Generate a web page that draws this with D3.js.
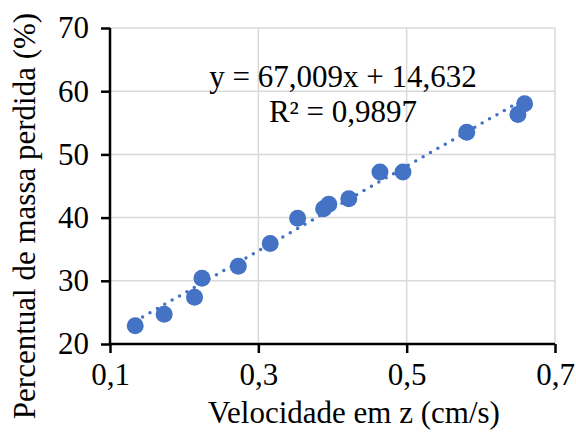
<!DOCTYPE html>
<html>
<head>
<meta charset="utf-8">
<script src="https://cdn.jsdelivr.net/npm/d3@7"></script>
<style>
  body { margin: 0; background: #fff; }
</style>
</head>
<body>
<div id="chart"></div>
<script>
// data
const velocidade = [0.134, 0.173, 0.214, 0.224, 0.273, 0.316, 0.353, 0.388, 0.395, 0.422, 0.464, 0.495, 0.581, 0.650, 0.659]
const massaPerdida = [22.9, 24.7, 27.4, 30.4, 32.3, 35.9, 39.9, 41.4, 42.1, 43.0, 47.2, 47.2, 53.5, 56.3, 58.0]
const xTicks = [0.1, 0.3, 0.5, 0.7]
const yTicks = [20, 30, 40, 50, 60, 70]
const trend = { slope: 67.009, intercept: 14.632 }
const eqLabel = 'y = 67,009x + 14,632'
const r2Label = 'R² = 0,9897'

const width = 576
const height = 432
const margin = {left: 110, top: 28, right: 21, bottom: 88}
const blue = '#4472C4'
const fontSize = '31px'
const font = 'Liberation Serif'

const data = velocidade.map((v, i) => ({x: v, y: massaPerdida[i]}))

const svg = d3.select('#chart')
.append('svg')
.attr('width', width)
.attr('height', height)

const xScale = d3.scaleLinear()
.domain([0.1, 0.7])
.range([margin.left, width - margin.right])

const yScale = d3.scaleLinear()
.domain([20, 70])
.range([height - margin.bottom, margin.top])

const comma = d => d3.format('.1f')(d).replace('.', ',')

// gridlines
const grid = svg.append('g')
grid.selectAll('.vgrid')
.data(xTicks.slice(1))
.enter().append('line')
.attr('x1', d => xScale(d)).attr('x2', d => xScale(d))
.attr('y1', yScale(20)).attr('y2', yScale(70))
.attr('stroke', '#d9d9d9').attr('stroke-width', 1.5)

grid.selectAll('.hgrid')
.data(yTicks.slice(1))
.enter().append('line')
.attr('x1', xScale(0.1)).attr('x2', xScale(0.7))
.attr('y1', d => yScale(d)).attr('y2', d => yScale(d))
.attr('stroke', '#d9d9d9').attr('stroke-width', 1.5)

// axes
const xaxis = svg.append('g')
.attr('transform', `translate(0,${yScale(20)})`)
.call(d3.axisBottom(xScale).tickValues(xTicks).tickSize(9).tickPadding(10).tickFormat(comma))

const yaxis = svg.append('g')
.attr('transform', `translate(${xScale(0.1)},0)`)
.call(d3.axisLeft(yScale).tickValues(yTicks).tickSize(9).tickPadding(12).tickFormat(d3.format('d')))

;[xaxis, yaxis].forEach(a => {
	a.select('.domain').attr('stroke', '#000').attr('stroke-width', 2.5)
	a.selectAll('.tick line').attr('stroke', '#000').attr('stroke-width', 2.5)
	a.selectAll('.tick text')
	.attr('fill', '#000')
	.style('font-family', font)
	.style('font-size', fontSize)
})

xaxis.select('.domain').attr('d', `M${xScale(0.1)},0H${xScale(0.7)}`)
yaxis.select('.domain').attr('d', `M0,${yScale(20)}V${yScale(70)}`)

// points
svg.append('g')
.selectAll('circle')
.data(data)
.enter().append('circle')
.attr('cx', d => xScale(d.x))
.attr('cy', d => yScale(d.y))
.attr('r', 8.5)
.attr('fill', blue)

// linear trendline over the data range
const xExtent = d3.extent(velocidade)
const line = d3.line()
.x(d => xScale(d))
.y(d => yScale(trend.slope * d + trend.intercept))

svg.append('path')
.attr('d', line(xExtent))
.attr('fill', 'none')
.attr('stroke', blue)
.attr('stroke-width', 3.5)
.attr('stroke-linecap', 'round')
.attr('stroke-dasharray', '0 8.5')

function label(x, y, txt, rotate) {
	const t = svg.append('text')
	.attr('text-anchor', 'middle')
	.style('font-family', font)
	.style('font-size', fontSize)
	.text(txt)
	if (rotate) t.attr('transform', `translate(${x},${y}) rotate(-90)`)
	else t.attr('x', x).attr('y', y)
	return t
}

// equation
label(343, 87, eqLabel)
label(343, 122, r2Label)

// axis titles
label(354, 423, 'Velocidade em z (cm/s)')
label(35, 216, 'Percentual de massa perdida (%)', true)
</script>
</body>
</html>
